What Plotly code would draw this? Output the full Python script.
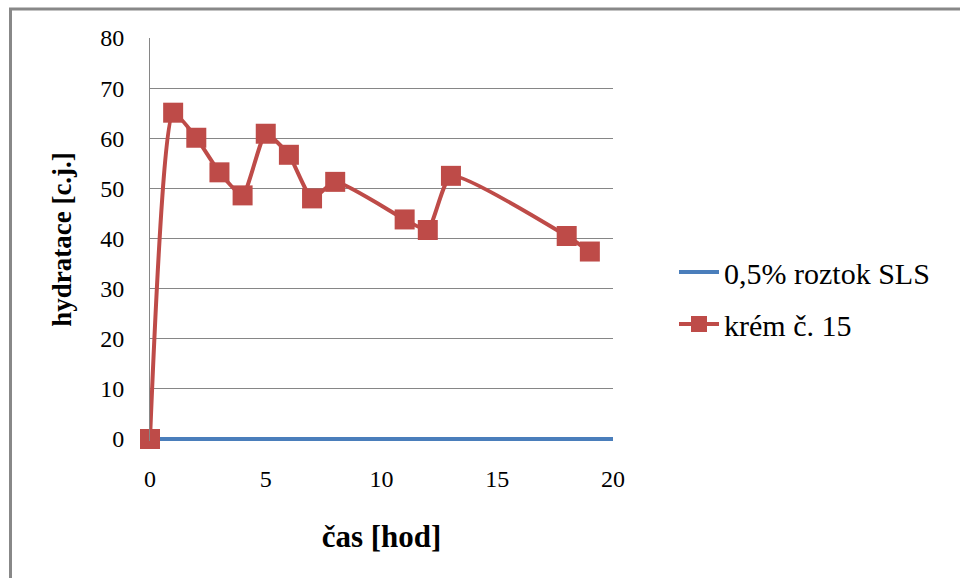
import plotly.graph_objects as go

# Data
cream_time = [0, 1, 2, 3, 4, 5, 6, 7, 8, 11, 12, 13, 18, 19]
cream_hydr = [0, 65.1, 60.1, 53.2, 48.6, 60.9, 56.7, 48.0, 51.3, 43.8, 41.7, 52.5, 40.5, 37.4]
sls_time = [0, 1, 2, 3, 4, 5, 6, 7, 8, 11, 12, 13, 18, 19, 20]
sls_hydr = [0, 0, 0, 0, 0, 0, 0, 0, 0, 0, 0, 0, 0, 0, 0]
x_ticks = [0, 5, 10, 15, 20]
y_ticks = [0, 10, 20, 30, 40, 50, 60, 70, 80]

FONT = "Liberation Serif, Times New Roman, serif"
L, R, T, B = 150, 347, 38, 137
W, H = 960, 578
pw, ph = W - L - R, H - T - B
Y0 = -0.4  # small pad so the zero-level line is not clipped

fig = go.Figure()
fig.add_trace(go.Scatter(
    x=sls_time, y=sls_hydr, mode="lines", name="0,5% roztok SLS",
    legendgroup="a",
    line=dict(color="#4a7ebb", width=4), cliponaxis=False))
fig.add_trace(go.Scatter(
    x=cream_time, y=cream_hydr, mode="lines+markers", name="krém č. 15",
    legendgroup="b",
    line=dict(color="#be4b48", width=4, shape="spline", smoothing=0.5),
    marker=dict(symbol="square", size=20, color="#be4b48"),
    cliponaxis=False))

def px_x(p):
    return (p - L) / pw

def px_y(p):
    return (H - B - p) / ph

shapes = [
    dict(type="line", xref="paper", yref="paper",
         x0=px_x(10.5), x1=px_x(10.5), y0=px_y(8), y1=px_y(600),
         line=dict(color="#888888", width=3)),
    dict(type="line", xref="paper", yref="paper",
         x0=px_x(9), x1=px_x(970), y0=px_y(9), y1=px_y(9),
         line=dict(color="#888888", width=3)),
]

fig.update_layout(
    width=W, height=H,
    margin=dict(l=L, r=R, t=T, b=B, pad=0),
    paper_bgcolor="white", plot_bgcolor="white",
    font=dict(family=FONT, color="black"),
    shapes=shapes,
    showlegend=True,
    legend=dict(x=px_x(674), xanchor="left", y=px_y(298), yanchor="middle",
                font=dict(family=FONT, size=30, color="black"),
                bgcolor="rgba(0,0,0,0)", itemwidth=40,
                traceorder="grouped", tracegroupgap=10),
    xaxis=dict(range=[0, 20], tickvals=x_ticks, showgrid=False, zeroline=False,
               showline=False, ticks="outside", ticklen=0, ticklabelstandoff=16,
               tickfont=dict(family=FONT, size=24, color="black"),
               title=dict(text="<b>čas [hod]</b>", standoff=34,
                          font=dict(family=FONT, size=31, color="black"))),
    yaxis=dict(range=[Y0, 80], tickvals=y_ticks, showgrid=True, gridcolor="#868686",
               gridwidth=1, zeroline=False, showline=True, linecolor="#868686",
               linewidth=1, ticks="outside", ticklen=0, ticklabelstandoff=20,
               tickfont=dict(family=FONT, size=24, color="black"),
               title=dict(text="<b>hydratace [c.j.]</b>", standoff=20,
                          font=dict(family=FONT, size=27, color="black"))),
)

fig.write_html("out.html")
